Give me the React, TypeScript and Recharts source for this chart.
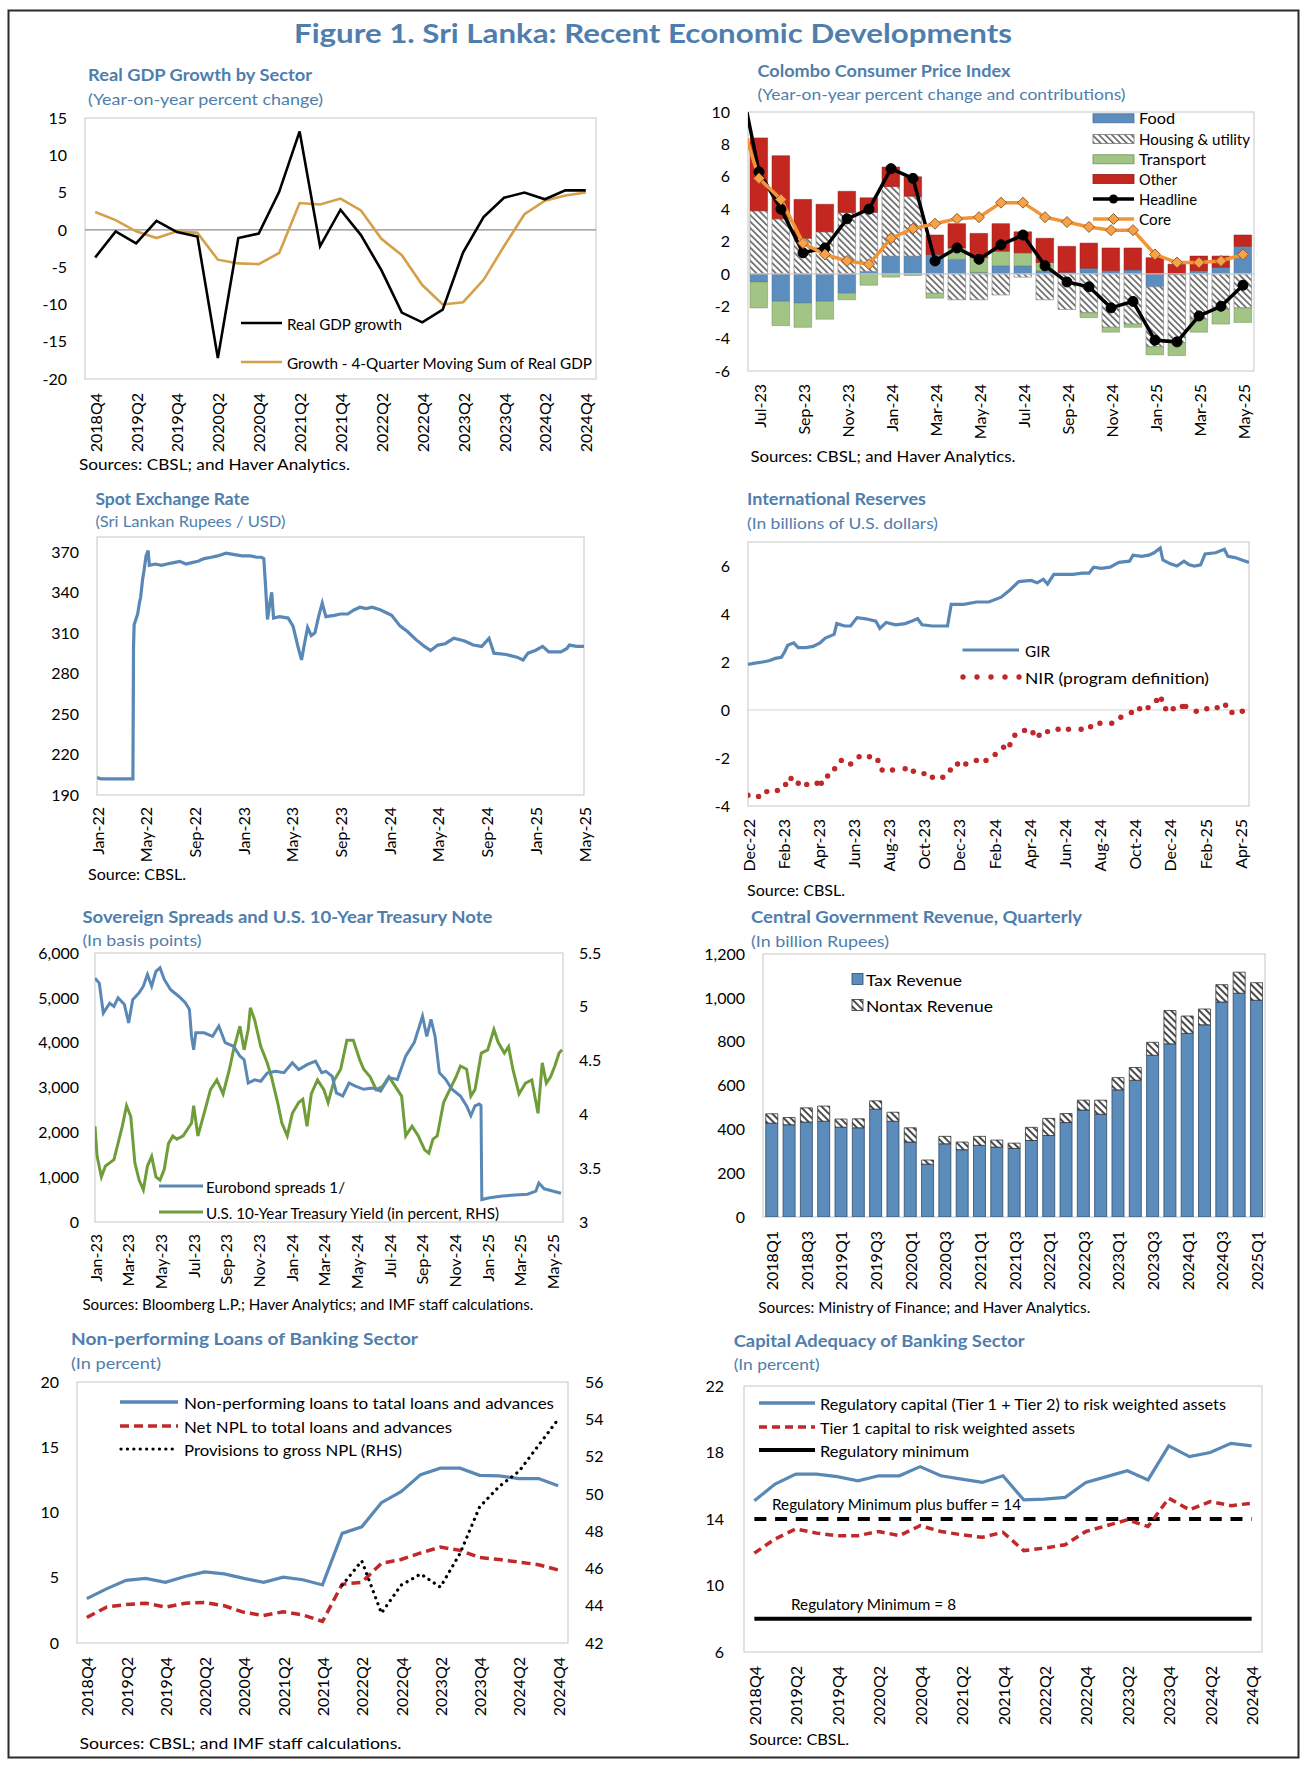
import React from 'react';
import { ComposedChart, Line, Bar, XAxis, YAxis, ReferenceLine } from 'recharts';

const FONT = "Lato, 'Open Sans', 'DejaVu Sans', sans-serif";
const TITLE_BLUE = '#4F7EAD';
const LINE_BLUE = '#5A88B6';
const GOLD = '#D4A04A';
const RED = '#C0282A';
const GREEN_T = '#6F9D3A';
const FOOD = '#5B8DBE';
const TRANSPORT = '#A2C585';
const OTHER = '#C3271F';
const CORE = '#F39434';
const TAX = '#5B8CBB';

// ---------------- DATA ----------------
// Real GDP growth (quarterly, 2018Q4 - 2024Q4)
const quarters = ['2018Q4', '2019Q1', '2019Q2', '2019Q3', '2019Q4', '2020Q1', '2020Q2', '2020Q3', '2020Q4', '2021Q1', '2021Q2', '2021Q3', '2021Q4', '2022Q1', '2022Q2', '2022Q3', '2022Q4', '2023Q1', '2023Q2', '2023Q3', '2023Q4', '2024Q1', '2024Q2', '2024Q3', '2024Q4'];
const gdpGrowth = [-3.7, -0.2, -1.8, 1.2, -0.3, -0.9, -17.2, -1.1, -0.5, 5.1, 13.2, -2.2, 2.7, -0.7, -5.4, -11.1, -12.4, -10.7, -3.0, 1.7, 4.3, 5.0, 4.1, 5.3, 5.3];
const gdpMovingSum = [2.4, 1.3, -0.2, -1.1, -0.2, -0.4, -4.0, -4.5, -4.6, -3.1, 3.6, 3.4, 4.2, 2.6, -1.2, -3.4, -7.4, -10.0, -9.7, -6.7, -2.2, 2.1, 3.9, 4.6, 5.0];

// Colombo CPI (monthly; Jun-23 only for the clipped line start)
const cpiMonths = ['Jun-23', 'Jul-23', 'Aug-23', 'Sep-23', 'Oct-23', 'Nov-23', 'Dec-23', 'Jan-24', 'Feb-24', 'Mar-24', 'Apr-24', 'May-24', 'Jun-24', 'Jul-24', 'Aug-24', 'Sep-24', 'Oct-24', 'Nov-24', 'Dec-24', 'Jan-25', 'Feb-25', 'Mar-25', 'Apr-25', 'May-25'];
const cpiFood = [null, -0.5, -1.7, -1.8, -1.7, -1.2, 0.15, 1.1, 1.1, 1.2, 0.9, 0.1, 0.5, 0.5, 0.2, 0.1, 0.35, 0.2, 0.25, -0.8, -0.05, 0.2, 0.4, 1.7];
const cpiHousing = [null, 3.9, 3.4, 2.2, 2.6, 3.8, 3.65, 4.3, 3.7, -1.2, -1.6, -1.6, -1.3, -0.2, -1.6, -2.2, -2.4, -3.3, -3.1, -3.7, -4.2, -2.8, -2.2, -2.1];
const cpiTransport = [null, -1.6, -1.5, -1.5, -1.1, -0.4, -0.7, -0.2, -0.1, -0.3, 0.7, 0.9, 0.9, 0.8, 0.5, 0, -0.3, -0.3, -0.2, -0.5, -0.8, -0.8, -0.9, -0.9];
const cpiOther = [null, 4.5, 3.9, 2.4, 1.7, 1.3, 0.9, 1.2, 1.2, 1.2, 1.5, 1.5, 1.7, 1.3, 1.5, 1.6, 1.55, 1.4, 1.35, 1.0, 0.6, 0.9, 0.7, 0.7];
const cpiHeadline = [13.0, 6.3, 4.0, 1.3, 1.6, 3.4, 4.0, 6.5, 5.9, 0.8, 1.6, 0.9, 1.8, 2.4, 0.5, -0.5, -0.8, -2.1, -1.7, -4.1, -4.2, -2.6, -2.0, -0.7];
const cpiCore = [10.3, 5.9, 4.6, 1.9, 1.2, 0.8, 0.6, 2.2, 2.8, 3.1, 3.4, 3.5, 4.4, 4.4, 3.5, 3.2, 2.9, 2.7, 2.7, 1.2, 0.7, 0.7, 0.8, 1.2];

// Spot exchange rate: [months since Jan-22, LKR per USD]
const spotTickLabels = ['Jan-22', 'May-22', 'Sep-22', 'Jan-23', 'May-23', 'Sep-23', 'Jan-24', 'May-24', 'Sep-24', 'Jan-25', 'May-25'];
const spotRate = [
  [0, 203], [0.3, 202], [1, 202], [2, 202], [2.95, 202], [3.0, 300], [3.05, 316], [3.34, 324], [3.5, 333], [3.58, 336], [3.75, 350], [3.86, 356], [4.03, 367], [4.2, 371], [4.3, 360],
  [4.8, 361], [5.3, 360], [5.75, 361], [6.3, 362], [6.8, 363], [7.3, 361], [7.8, 362], [8.3, 363], [8.8, 365], [9.4, 366], [9.9, 367], [10.6, 369], [11.3, 368], [11.9, 367], [12.6, 367], [13.1, 366], [13.5, 366], [13.7, 365],
  [13.85, 344], [14.0, 320], [14.2, 332], [14.35, 340], [14.5, 321], [15.0, 322], [15.7, 321], [16.1, 315], [16.5, 300], [16.8, 290], [17.0, 300], [17.3, 314],
  [17.6, 308], [17.9, 310], [18.2, 322], [18.5, 332], [18.8, 322], [19.5, 323], [20.0, 324], [20.6, 324], [21.1, 327], [21.6, 329], [22.1, 328], [22.6, 329], [23.3, 327], [24.2, 323], [24.9, 315],
  [25.5, 311], [26.2, 305], [26.9, 300], [27.4, 297], [28.0, 301], [28.6, 302], [29.3, 306], [30.2, 304], [30.9, 301], [31.6, 300], [32.2, 306], [32.6, 295],
  [33.6, 294], [34.5, 292], [35.0, 290], [35.4, 295], [36.0, 297], [36.6, 300], [37.1, 296], [38.1, 296], [38.6, 298.5], [38.8, 301], [39.4, 300], [40, 300],
];

// International reserves: [months since Dec-22, USD bn]
const resTickLabels = ['Dec-22', 'Feb-23', 'Apr-23', 'Jun-23', 'Aug-23', 'Oct-23', 'Dec-23', 'Feb-24', 'Apr-24', 'Jun-24', 'Aug-24', 'Oct-24', 'Dec-24', 'Feb-25', 'Apr-25'];
const gir = [
  [0, 1.9], [0.4, 1.95], [0.83, 2.0], [1.2, 2.05], [1.55, 2.15], [1.9, 2.2], [2.1, 2.45], [2.26, 2.7], [2.6, 2.8], [2.86, 2.6], [3.3, 2.6], [3.7, 2.65], [4.1, 2.8],
  [4.4, 3.0], [4.9, 3.15], [5.05, 3.6], [5.5, 3.5], [5.84, 3.5], [6.2, 3.85], [6.7, 3.8], [7.27, 3.7], [7.5, 3.4], [7.86, 3.65], [8.4, 3.55], [8.94, 3.6],
  [9.3, 3.7], [9.65, 3.8], [9.9, 3.55], [10.5, 3.5], [11.1, 3.5], [11.35, 3.5], [11.56, 4.4], [12.27, 4.4], [13.0, 4.5], [13.7, 4.5], [14.4, 4.7], [14.9, 5.0],
  [15.4, 5.35], [16.1, 5.4], [16.45, 5.3], [16.8, 5.45], [17.04, 5.25], [17.4, 5.65], [18.0, 5.65], [18.5, 5.65], [19.0, 5.7], [19.4, 5.7], [19.66, 5.95],
  [20.1, 5.9], [20.6, 5.95], [21.1, 6.15], [21.7, 6.2], [21.9, 6.45], [22.4, 6.4], [22.8, 6.45], [23.1, 6.55], [23.45, 6.75], [23.6, 6.25], [24.0, 6.1],
  [24.4, 6.0], [24.8, 6.2], [25.1, 6.05], [25.4, 6.0], [25.75, 6.05], [26.0, 6.5], [26.6, 6.55], [27.1, 6.7], [27.3, 6.4], [27.7, 6.35], [28.5, 6.15],
];
const nir = [
  [0, -3.55], [0.6, -3.6], [1.07, -3.4], [1.67, -3.35], [2.14, -3.1], [2.45, -2.85], [2.86, -3.05], [3.34, -3.1], [3.93, -3.05], [4.17, -3.05], [4.53, -2.75],
  [4.93, -2.45], [5.31, -2.1], [5.84, -2.25], [6.32, -1.95], [6.91, -1.95], [7.39, -2.1], [7.63, -2.5], [8.22, -2.5], [8.94, -2.45], [9.41, -2.55], [10.01, -2.65],
  [10.49, -2.8], [11.08, -2.8], [11.51, -2.5], [11.92, -2.25], [12.39, -2.25], [12.99, -2.1], [13.54, -2.1], [14.06, -1.85], [14.54, -1.55], [14.9, -1.45],
  [15.18, -1.05], [15.73, -0.85], [16.21, -0.95], [16.56, -1.05], [17.04, -0.9], [17.64, -0.8], [18.23, -0.8], [18.95, -0.8], [19.49, -0.7], [20.02, -0.55],
  [20.69, -0.55], [21.21, -0.3], [21.81, -0.1], [22.28, 0.05], [22.76, 0.1], [23.24, 0.4], [23.52, 0.45], [23.76, 0.05], [24.19, 0.05], [24.71, 0.15], [24.9, 0.15],
  [25.5, -0.05], [26.1, 0.05], [26.69, 0.1], [27.17, 0.2], [27.53, -0.1], [28.12, -0.05],
];

// Sovereign spreads (bp) and UST 10Y yield (%): [months since Jan-23, value]
const sprTickLabels = ['Jan-23', 'Mar-23', 'May-23', 'Jul-23', 'Sep-23', 'Nov-23', 'Jan-24', 'Mar-24', 'May-24', 'Jul-24', 'Sep-24', 'Nov-24', 'Jan-25', 'Mar-25', 'May-25'];
const eurobondSpread = [
  [0, 5440], [0.26, 5330], [0.51, 4660], [0.9, 4880], [1.16, 4810], [1.41, 5000], [1.8, 4850], [2.06, 4440], [2.31, 4960], [2.7, 5110], [2.96, 5260], [3.21, 5520],
  [3.47, 5260], [3.73, 5590], [3.98, 5670], [4.24, 5410], [4.63, 5180], [5.14, 5030], [5.53, 4890], [5.78, 4740], [5.91, 4140], [6.04, 3840], [6.17, 4220],
  [6.68, 4220], [7.2, 4140], [7.58, 4370], [7.97, 4000], [8.48, 3920], [8.87, 3700], [9.13, 3620], [9.38, 3100], [9.77, 3170], [10.15, 3140], [10.54, 3320],
  [11.05, 3360], [11.57, 3330], [12.08, 3550], [12.47, 3400], [12.98, 3510], [13.5, 3590], [13.88, 3330], [14.14, 3360], [14.52, 3250], [14.78, 2880],
  [15.17, 2810], [15.55, 3100], [15.94, 3030], [16.45, 2960], [16.97, 2990], [17.48, 2920], [17.99, 3220], [18.51, 3180], [19.02, 3700], [19.54, 4000],
  [20.05, 4590], [20.31, 4140], [20.57, 4520], [20.82, 4140], [21.08, 3330], [21.47, 3180], [21.85, 2960], [22.37, 2810], [22.75, 2590], [23.01, 2370],
  [23.26, 2590], [23.52, 2630], [23.63, 2600], [23.68, 500], [24.16, 540], [24.94, 580], [25.71, 600], [26.48, 620], [26.99, 690], [27.17, 870], [27.5, 740],
  [28.01, 690], [28.53, 640],
];
const treasuryYield = [
  [0, 3.89], [0.13, 3.61], [0.39, 3.42], [0.64, 3.52], [0.9, 3.55], [1.16, 3.58], [1.41, 3.73], [1.67, 3.89], [1.93, 4.08], [2.19, 3.98], [2.44, 3.55], [2.7, 3.39],
  [2.96, 3.3], [3.21, 3.52], [3.47, 3.61], [3.73, 3.42], [3.98, 3.39], [4.24, 3.49], [4.5, 3.73], [4.76, 3.8], [5.01, 3.77], [5.4, 3.8], [5.91, 3.92], [6.04, 4.08],
  [6.3, 3.8], [6.68, 4.01], [7.07, 4.23], [7.46, 4.32], [7.84, 4.19], [8.23, 4.42], [8.48, 4.6], [8.87, 4.82], [9.13, 4.6], [9.38, 4.79], [9.51, 4.99], [9.77, 4.88],
  [10.15, 4.63], [10.54, 4.48], [10.8, 4.35], [11.18, 4.11], [11.44, 3.92], [11.77, 3.8], [12.08, 4.01], [12.47, 4.11], [12.72, 4.14], [12.98, 3.89], [13.24, 4.19],
  [13.62, 4.32], [14.01, 4.23], [14.27, 4.11], [14.65, 4.32], [15.04, 4.42], [15.42, 4.69], [15.81, 4.69], [16.2, 4.51], [16.45, 4.42], [16.84, 4.35], [17.22, 4.23],
  [17.61, 4.26], [17.99, 4.35], [18.38, 4.26], [18.77, 4.17], [19.02, 3.8], [19.41, 3.89], [19.79, 3.8], [20.18, 3.67], [20.44, 3.64], [20.69, 3.77], [20.95, 3.8],
  [21.34, 4.11], [21.72, 4.23], [22.11, 4.35], [22.37, 4.45], [22.75, 4.42], [23.01, 4.17], [23.26, 4.23], [23.65, 4.57], [24.04, 4.6], [24.42, 4.79], [24.68, 4.67],
  [25.06, 4.57], [25.32, 4.63], [25.58, 4.42], [25.96, 4.19], [26.35, 4.29], [26.74, 4.32], [27.12, 4.01], [27.38, 4.48], [27.63, 4.29], [27.89, 4.35], [28.15, 4.45],
  [28.41, 4.57], [28.59, 4.6],
];

// Central government revenue (quarterly, billion rupees)
const revQuarters = ['2018Q1', '2018Q2', '2018Q3', '2018Q4', '2019Q1', '2019Q2', '2019Q3', '2019Q4', '2020Q1', '2020Q2', '2020Q3', '2020Q4', '2021Q1', '2021Q2', '2021Q3', '2021Q4', '2022Q1', '2022Q2', '2022Q3', '2022Q4', '2023Q1', '2023Q2', '2023Q3', '2023Q4', '2024Q1', '2024Q2', '2024Q3', '2024Q4', '2025Q1'];
const taxRevenue = [428, 421, 433, 437, 410, 407, 492, 437, 342, 241, 334, 307, 327, 319, 313, 349, 372, 431, 488, 469, 580, 624, 738, 790, 838, 877, 981, 1021, 989];
const nontaxRevenue = [43, 33, 65, 69, 37, 41, 38, 41, 65, 19, 34, 35, 41, 32, 24, 60, 78, 41, 45, 64, 56, 58, 59, 152, 79, 72, 79, 96, 80];

// Non-performing loans (percent)
const nplRatio = [3.4, 4.15, 4.8, 4.95, 4.65, 5.1, 5.45, 5.3, 4.95, 4.65, 5.05, 4.85, 4.45, 8.4, 8.9, 10.75, 11.6, 12.9, 13.4, 13.4, 12.85, 12.8, 12.6, 12.6, 12.05];
const netNplRatio = [1.95, 2.75, 2.95, 3.05, 2.75, 3.05, 3.1, 2.85, 2.35, 2.1, 2.4, 2.15, 1.65, 4.5, 4.65, 6.1, 6.4, 6.9, 7.35, 7.1, 6.55, 6.4, 6.2, 6.0, 5.6];
const provisionsRatio = [null, null, null, null, null, null, null, null, null, null, null, null, null, 45.1, 46.4, 43.6, 45.1, 45.7, 45.0, 46.8, 49.3, 50.4, 51.2, 52.6, 54.0];

// Capital adequacy (percent)
const regCapital = [15.1, 16.1, 16.7, 16.7, 16.55, 16.3, 16.6, 16.6, 17.15, 16.6, 16.4, 16.2, 16.6, 15.15, 15.2, 15.3, 16.2, 16.55, 16.9, 16.35, 18.4, 17.75, 18.0, 18.55, 18.4];
const tier1Capital = [11.95, 12.8, 13.4, 13.15, 13.0, 13.0, 13.25, 13.0, 13.6, 13.25, 13.05, 12.9, 13.2, 12.1, 12.25, 12.45, 13.25, 13.6, 13.95, 13.55, 15.25, 14.55, 15.05, 14.8, 14.95];
const regMinimum = [8, 8, 8, 8, 8, 8, 8, 8, 8, 8, 8, 8, 8, 8, 8, 8, 8, 8, 8, 8, 8, 8, 8, 8, 8];
const regMinBuffer = [14, 14, 14, 14, 14, 14, 14, 14, 14, 14, 14, 14, 14, 14, 14, 14, 14, 14, 14, 14, 14, 14, 14, 14, 14];

// ---------------- TABLES ----------------
const gdpRows = quarters.map((q, i) => ({ q, growth: gdpGrowth[i], msum: gdpMovingSum[i] }));
const cpiRows = cpiMonths.map((m, i) => ({
  x: i - 1, food: cpiFood[i], housing: cpiHousing[i], transport: cpiTransport[i], other: cpiOther[i], headline: cpiHeadline[i], core: cpiCore[i],
}));
const spotRows = spotRate.map(([m, v]) => ({ m, v }));
const girRows = gir.map(([m, v]) => ({ m, v }));
const nirRows = nir.map(([m, v]) => ({ m, v }));
const sprRows = eurobondSpread.map(([m, v]) => ({ m, v }));
const ustRows = treasuryYield.map(([m, v]) => ({ m, v }));
const revRows = revQuarters.map((q, i) => ({ q, tax: taxRevenue[i], nontax: nontaxRevenue[i] }));
const nplRows = quarters.map((q, i) => ({ q, npl: nplRatio[i], net: netNplRatio[i], prov: provisionsRatio[i] }));
const carRows = quarters.map((q, i) => ({ q, reg: regCapital[i], t1: tier1Capital[i], min: regMinimum[i], buf: regMinBuffer[i] }));

// ---------------- HELPERS ----------------
const MR = 16;
const M = { top: 10, right: MR, bottom: 0, left: 0 };
function frame(L: number, T: number, R: number, B: number, yw: number, yw2: number, xh: number) {
  return { left: L - yw, top: T - 10, width: R - L + yw + yw2 + MR, height: B - T + 10 + xh };
}
const yTick = { fontSize: 16, fontFamily: FONT, fill: '#000' };
const rotTick = (fmt?: (v: any) => string) => (p: any) => {
  const label = fmt ? fmt(p.payload.value) : p.payload.value;
  return (
    <text key={`t${p.index}`} x={p.x} y={p.y} transform={`rotate(-90 ${p.x} ${p.y})`} textAnchor="end" dominantBaseline="central" fontFamily={FONT} fontSize={16} fill="#000">
      {label}
    </text>
  );
};
const thousands = (v: number) => v.toLocaleString('en-US');
const diamondDot = (p: any) => {
  const { cx, cy, index } = p;
  if (cx == null || cy == null) return <g key={`d${index}`} />;
  const s = 5.5;
  return <path key={`d${index}`} d={`M${cx},${cy - s}L${cx + s},${cy}L${cx},${cy + s}L${cx - s},${cy}Z`} fill="#F6A24A" stroke="#9A5B22" strokeWidth={1} />;
};

const Pos = ({ f, children }: any) => (
  <div style={{ position: 'absolute', left: f.left, top: f.top, width: f.width, height: f.height }}>{children}</div>
);

const Txt = ({ x, y, len, size = 16, bold = false, fill = '#000', children }: any) => (
  <text x={x} y={y} fontFamily={FONT} fontSize={size} fontWeight={bold ? 700 : 400} fill={fill} dominantBaseline="central"
    textLength={len} lengthAdjust={len ? 'spacingAndGlyphs' : undefined}>{children}</text>
);

// plot boxes [L, T, R, B]
const B1 = [85, 118, 596, 379];
const B2 = [748, 112, 1254, 371];
const B3 = [97, 537, 584, 795];
const B4 = [748, 542, 1249, 806];
const B5 = [95, 953, 563, 1222];
const B6 = [763, 954, 1265, 1217];
const B7 = [77, 1382, 568, 1643];
const B8 = [744, 1386, 1262, 1652];

const F1 = frame(B1[0], B1[1], B1[2], B1[3], 60, 0, 90);
const F2 = frame(B2[0], B2[1], B2[2], B2[3], 60, 0, 85);
const F3 = frame(B3[0], B3[1], B3[2], B3[3], 60, 0, 80);
const F4 = frame(B4[0], B4[1], B4[2], B4[3], 60, 0, 80);
const F5 = frame(B5[0], B5[1], B5[2], B5[3], 70, 50, 80);
const F6 = frame(B6[0], B6[1], B6[2], B6[3], 70, 0, 85);
const F7 = frame(B7[0], B7[1], B7[2], B7[3], 60, 50, 85);
const F8 = frame(B8[0], B8[1], B8[2], B8[3], 60, 0, 85);

// half-band padding so that quarterly points sit at category centres (as in the original)
const pad1 = (B1[2] - B1[0]) / quarters.length / 2;
const pad7 = (B7[2] - B7[0]) / quarters.length / 2;
const pad8 = (B8[2] - B8[0]) / quarters.length / 2;

// ---------------- CHARTS ----------------
const GdpChart = () => (
  <Pos f={F1}>
    <ComposedChart width={F1.width} height={F1.height} data={gdpRows} margin={M}>
      <XAxis dataKey="q" interval={1} padding={{ left: pad1, right: pad1 }} axisLine={false} tickLine={false} tickSize={0} tickMargin={14} height={90} tick={rotTick()} />
      <YAxis domain={[-20, 15]} ticks={[-20, -15, -10, -5, 0, 5, 10, 15]} allowDataOverflow width={60} axisLine={false} tickLine={false} tickSize={0} tickMargin={18} tick={yTick} />
      <ReferenceLine y={0} stroke="#8C8C8C" strokeWidth={1.2} />
      <Line dataKey="msum" stroke={GOLD} strokeWidth={2.6} dot={false} isAnimationActive={false} />
      <Line dataKey="growth" stroke="#000" strokeWidth={2.6} dot={false} isAnimationActive={false} />
    </ComposedChart>
  </Pos>
);

const CpiChart = () => (
  <Pos f={F2}>
    <ComposedChart width={F2.width} height={F2.height} data={cpiRows} margin={M} stackOffset="sign">
      <XAxis dataKey="x" type="number" domain={[-0.5, 22.5]} allowDataOverflow ticks={[0, 2, 4, 6, 8, 10, 12, 14, 16, 18, 20, 22]} interval={0}
        axisLine={false} tickLine={false} tickSize={0} tickMargin={13} height={85} tick={rotTick((v) => cpiMonths[v + 1])} />
      <YAxis domain={[-6, 10]} ticks={[-6, -4, -2, 0, 2, 4, 6, 8, 10]} allowDataOverflow width={60} axisLine={false} tickLine={false} tickSize={0} tickMargin={18} tick={yTick} />
      <ReferenceLine y={0} stroke="#C8C8C8" strokeWidth={1.2} />
      <Bar dataKey="food" stackId="c" fill={FOOD} stroke="#4A6F94" strokeWidth={0.5} barSize={17.6} isAnimationActive={false} />
      <Bar dataKey="housing" stackId="c" fill="url(#hatchCpi)" stroke="#8A8A8A" strokeWidth={0.7} barSize={17.6} isAnimationActive={false} />
      <Bar dataKey="transport" stackId="c" fill={TRANSPORT} stroke="#6F8F58" strokeWidth={0.5} barSize={17.6} isAnimationActive={false} />
      <Bar dataKey="other" stackId="c" fill={OTHER} stroke="#8E1D16" strokeWidth={0.5} barSize={17.6} isAnimationActive={false} />
      <Line dataKey="headline" stroke="#000" strokeWidth={3.5} dot={{ r: 5, fill: '#000', stroke: '#000', strokeWidth: 1 }} isAnimationActive={false} />
      <Line dataKey="core" stroke={CORE} strokeWidth={3.5} dot={diamondDot} isAnimationActive={false} />
    </ComposedChart>
  </Pos>
);

const SpotChart = () => (
  <Pos f={F3}>
    <ComposedChart width={F3.width} height={F3.height} data={spotRows} margin={M}>
      <XAxis dataKey="m" type="number" domain={[0, 40]} allowDataOverflow ticks={[0, 4, 8, 12, 16, 20, 24, 28, 32, 36, 40]} interval={0}
        axisLine={false} tickLine={false} tickSize={0} tickMargin={12} height={80} tick={rotTick((v) => spotTickLabels[Math.round(v / 4)])} />
      <YAxis domain={[190, 381]} ticks={[190, 220, 250, 280, 310, 340, 370]} allowDataOverflow width={60} axisLine={false} tickLine={false} tickSize={0} tickMargin={18} tick={yTick} />
      <Line dataKey="v" stroke={LINE_BLUE} strokeWidth={3.2} dot={false} isAnimationActive={false} />
    </ComposedChart>
  </Pos>
);

const ReservesChart = () => (
  <Pos f={F4}>
    <ComposedChart width={F4.width} height={F4.height} margin={M}>
      <XAxis dataKey="m" type="number" domain={[0, 28.5]} allowDataOverflow ticks={[0, 2, 4, 6, 8, 10, 12, 14, 16, 18, 20, 22, 24, 26, 28]} interval={0}
        axisLine={false} tickLine={false} tickSize={0} tickMargin={13} height={80} tick={rotTick((v) => resTickLabels[Math.round(v / 2)])} />
      <YAxis domain={[-4, 7]} ticks={[-4, -2, 0, 2, 4, 6]} allowDataOverflow width={60} axisLine={false} tickLine={false} tickSize={0} tickMargin={18} tick={yTick} />
      <ReferenceLine y={0} stroke="#D4D4D4" strokeWidth={1.2} />
      <Line data={girRows} dataKey="v" stroke={LINE_BLUE} strokeWidth={3.2} dot={false} isAnimationActive={false} />
      <Line data={nirRows} dataKey="v" stroke="none" strokeWidth={0} dot={{ r: 2.7, fill: RED, stroke: 'none' }} isAnimationActive={false} />
    </ComposedChart>
  </Pos>
);

const SpreadChart = () => (
  <Pos f={F5}>
    <ComposedChart width={F5.width} height={F5.height} margin={M}>
      <XAxis dataKey="m" type="number" domain={[0, 28.65]} allowDataOverflow ticks={[0, 2, 4, 6, 8, 10, 12, 14, 16, 18, 20, 22, 24, 26, 28]} interval={0}
        axisLine={false} tickLine={false} tickSize={0} tickMargin={12} height={80} tick={rotTick((v) => sprTickLabels[Math.round(v / 2)])} />
      <YAxis yAxisId="L" domain={[0, 6000]} ticks={[0, 1000, 2000, 3000, 4000, 5000, 6000]} tickFormatter={thousands} allowDataOverflow width={70}
        axisLine={false} tickLine={false} tickSize={0} tickMargin={16} tick={yTick} />
      <YAxis yAxisId="R" orientation="right" domain={[3, 5.5]} ticks={[3, 3.5, 4, 4.5, 5, 5.5]} allowDataOverflow width={50}
        axisLine={false} tickLine={false} tickSize={0} tickMargin={16} tick={yTick} />
      <Line yAxisId="R" data={ustRows} dataKey="v" stroke={GREEN_T} strokeWidth={3} dot={false} isAnimationActive={false} />
      <Line yAxisId="L" data={sprRows} dataKey="v" stroke={LINE_BLUE} strokeWidth={3} dot={false} isAnimationActive={false} />
    </ComposedChart>
  </Pos>
);

const RevenueChart = () => (
  <Pos f={F6}>
    <ComposedChart width={F6.width} height={F6.height} data={revRows} margin={M} barCategoryGap="16%">
      <XAxis dataKey="q" interval={1} axisLine={false} tickLine={false} tickSize={0} tickMargin={14} height={85} tick={rotTick()} />
      <YAxis domain={[0, 1200]} ticks={[0, 200, 400, 600, 800, 1000, 1200]} tickFormatter={thousands} allowDataOverflow width={70}
        axisLine={false} tickLine={false} tickSize={0} tickMargin={18} tick={yTick} />
      <Bar dataKey="tax" stackId="r" fill={TAX} stroke="#2F4B68" strokeWidth={0.8} isAnimationActive={false} />
      <Bar dataKey="nontax" stackId="r" fill="url(#hatchRev)" stroke="#333" strokeWidth={0.8} isAnimationActive={false} />
    </ComposedChart>
  </Pos>
);

const NplChart = () => (
  <Pos f={F7}>
    <ComposedChart width={F7.width} height={F7.height} data={nplRows} margin={M}>
      <XAxis dataKey="q" interval={1} padding={{ left: pad7, right: pad7 }} axisLine={false} tickLine={false} tickSize={0} tickMargin={14} height={85} tick={rotTick()} />
      <YAxis yAxisId="L" domain={[0, 20]} ticks={[0, 5, 10, 15, 20]} allowDataOverflow width={60} axisLine={false} tickLine={false} tickSize={0} tickMargin={18} tick={yTick} />
      <YAxis yAxisId="R" orientation="right" domain={[42, 56]} ticks={[42, 44, 46, 48, 50, 52, 54, 56]} allowDataOverflow width={50}
        axisLine={false} tickLine={false} tickSize={0} tickMargin={17} tick={yTick} />
      <Line yAxisId="L" dataKey="npl" stroke={LINE_BLUE} strokeWidth={3.2} dot={false} isAnimationActive={false} />
      <Line yAxisId="L" dataKey="net" stroke={RED} strokeWidth={3.5} strokeDasharray="9 5" dot={false} isAnimationActive={false} />
      <Line yAxisId="R" dataKey="prov" stroke="#000" strokeWidth={3.2} strokeDasharray="0.1 6.3" strokeLinecap="round" dot={false} isAnimationActive={false} />
    </ComposedChart>
  </Pos>
);

const CarChart = () => (
  <Pos f={F8}>
    <ComposedChart width={F8.width} height={F8.height} data={carRows} margin={M}>
      <XAxis dataKey="q" interval={1} padding={{ left: pad8, right: pad8 }} axisLine={false} tickLine={false} tickSize={0} tickMargin={14} height={85} tick={rotTick()} />
      <YAxis domain={[6, 22]} ticks={[6, 10, 14, 18, 22]} allowDataOverflow width={60} axisLine={false} tickLine={false} tickSize={0} tickMargin={20} tick={yTick} />
      <Line dataKey="min" stroke="#000" strokeWidth={4} dot={false} isAnimationActive={false} />
      <Line dataKey="buf" stroke="#000" strokeWidth={4} strokeDasharray="12 8.7" dot={false} isAnimationActive={false} />
      <Line dataKey="t1" stroke={RED} strokeWidth={3.5} strokeDasharray="8 5" dot={false} isAnimationActive={false} />
      <Line dataKey="reg" stroke={LINE_BLUE} strokeWidth={3.2} dot={false} isAnimationActive={false} />
    </ComposedChart>
  </Pos>
);

// ---------------- BACKGROUND / OVERLAY ----------------
const boxes = [B1, B2, B3, B4, B5, B6, B7, B8];

const Background = () => (
  <svg width={1310} height={1768} style={{ position: 'absolute', left: 0, top: 0 }}>
    <defs>
      <pattern id="hatchCpi" patternUnits="userSpaceOnUse" width={4.6} height={4.6} patternTransform="rotate(-45)">
        <rect width={4.6} height={4.6} fill="#fff" />
        <rect width={1.7} height={4.6} fill="#6A6A6A" />
      </pattern>
      <pattern id="hatchRev" patternUnits="userSpaceOnUse" width={5} height={5} patternTransform="rotate(-45)">
        <rect width={5} height={5} fill="#fff" />
        <rect width={2} height={5} fill="#4A4A4A" />
      </pattern>
    </defs>
    <rect x={8.5} y={10.5} width={1290} height={1747} fill="none" stroke="#2A2A2A" strokeWidth={2} />
    {boxes.map((b, i) => (
      <rect key={i} x={b[0]} y={b[1]} width={b[2] - b[0]} height={b[3] - b[1]} fill="none" stroke="#D3D3D3" strokeWidth={1.3} />
    ))}
  </svg>
);

const LegLine = ({ x1, x2, y, color, w = 3.2, dash }: any) => (
  <line x1={x1} x2={x2} y1={y} y2={y} stroke={color} strokeWidth={w} strokeDasharray={dash} strokeLinecap={dash && dash.startsWith('0.1') ? 'round' : 'butt'} />
);

const Overlay = () => (
  <svg width={1310} height={1768} style={{ position: 'absolute', left: 0, top: 0, pointerEvents: 'none' }}>
    {/* main title */}
    <Txt x={294} y={33} len={718} size={26} bold fill={TITLE_BLUE}>Figure 1. Sri Lanka: Recent Economic Developments</Txt>

    {/* Panel 1 */}
    <Txt x={88} y={74} len={224} size={17} bold fill={TITLE_BLUE}>Real GDP Growth by Sector</Txt>
    <Txt x={88} y={98} len={235} fill={TITLE_BLUE}>(Year-on-year percent change)</Txt>
    <LegLine x1={241} x2={282} y={323} color="#000" w={2.6} />
    <Txt x={287} y={323} len={115}>Real GDP growth</Txt>
    <LegLine x1={241} x2={282} y={362} color={GOLD} w={2.6} />
    <Txt x={287} y={362} len={305}>Growth - 4-Quarter Moving Sum of Real GDP</Txt>
    <Txt x={79} y={463} len={271}>Sources: CBSL; and Haver Analytics.</Txt>

    {/* Panel 2 */}
    <Txt x={757.5} y={70} len={253} size={17} bold fill={TITLE_BLUE}>Colombo Consumer Price Index</Txt>
    <Txt x={757.5} y={93} len={368} fill={TITLE_BLUE}>(Year-on-year percent change and contributions)</Txt>
    <rect x={1093} y={113.8} width={41} height={9} fill={FOOD} stroke="#4A6F94" strokeWidth={0.8} />
    <rect x={1093} y={134.5} width={41} height={9} fill="url(#hatchCpi)" stroke="#777" strokeWidth={0.8} />
    <rect x={1093} y={154.8} width={41} height={9} fill={TRANSPORT} stroke="#6F8F58" strokeWidth={0.8} />
    <rect x={1093} y={174.5} width={41} height={9} fill={OTHER} stroke="#8E1D16" strokeWidth={0.8} />
    <LegLine x1={1093} x2={1134} y={199} color="#000" w={3.5} />
    <circle cx={1113.5} cy={199} r={4.5} fill="#000" />
    <LegLine x1={1093} x2={1134} y={219} color={CORE} w={3.5} />
    <path d="M1113.5,213.5L1119,219L1113.5,224.5L1108,219Z" fill="#F6A24A" stroke="#9A5B22" strokeWidth={1} />
    <Txt x={1139} y={118.3} size={15} len={36}>Food</Txt>
    <Txt x={1139} y={139} size={15} len={111}>Housing &amp; utility</Txt>
    <Txt x={1139} y={159.3} size={15} len={67}>Transport</Txt>
    <Txt x={1139} y={179} size={15} len={38}>Other</Txt>
    <Txt x={1139} y={199} size={15} len={58}>Headline</Txt>
    <Txt x={1139} y={219} size={15} len={32}>Core</Txt>
    <Txt x={750.4} y={455} len={265}>Sources: CBSL; and Haver Analytics.</Txt>

    {/* Panel 3 */}
    <Txt x={95.4} y={498} len={154} size={17} bold fill={TITLE_BLUE}>Spot Exchange Rate</Txt>
    <Txt x={95.4} y={520} len={190} fill={TITLE_BLUE}>(Sri Lankan Rupees / USD)</Txt>
    <Txt x={88} y={873} len={98}>Source: CBSL.</Txt>

    {/* Panel 4 */}
    <Txt x={747} y={498} len={179} size={17} bold fill={TITLE_BLUE}>International Reserves</Txt>
    <Txt x={747} y={522} len={191} fill={TITLE_BLUE}>(In billions of U.S. dollars)</Txt>
    <LegLine x1={962.5} x2={1019} y={650} color={LINE_BLUE} w={3.2} />
    <Txt x={1025} y={650} len={25}>GIR</Txt>
    {[963, 977, 991, 1005, 1019].map((cx) => <circle key={cx} cx={cx} cy={677} r={2.7} fill={RED} />)}
    <Txt x={1025} y={677} len={184}>NIR (program definition)</Txt>
    <Txt x={747} y={889} len={98}>Source: CBSL.</Txt>

    {/* Panel 5 */}
    <Txt x={82.4} y={916} len={410} size={17} bold fill={TITLE_BLUE}>Sovereign Spreads and U.S. 10-Year Treasury Note</Txt>
    <Txt x={82.4} y={939} len={119} fill={TITLE_BLUE}>(In basis points)</Txt>
    <LegLine x1={159} x2={203} y={1186} color={LINE_BLUE} w={3.2} />
    <Txt x={206} y={1186} len={139}>Eurobond spreads 1/</Txt>
    <LegLine x1={159} x2={203} y={1212} color={GREEN_T} w={3.2} />
    <Txt x={206} y={1212} len={293}>U.S. 10-Year Treasury Yield (in percent, RHS)</Txt>
    <Txt x={82.4} y={1303} len={451}>Sources: Bloomberg L.P.; Haver Analytics; and IMF staff calculations.</Txt>

    {/* Panel 6 */}
    <Txt x={751} y={916} len={331} size={17} bold fill={TITLE_BLUE}>Central Government Revenue, Quarterly</Txt>
    <Txt x={751} y={940} len={138} fill={TITLE_BLUE}>(In billion Rupees)</Txt>
    <rect x={852} y={973.5} width={11} height={11} fill={TAX} stroke="#2F4B68" strokeWidth={0.8} />
    <Txt x={866} y={979} len={96}>Tax Revenue</Txt>
    <rect x={852} y={999.5} width={11} height={11} fill="url(#hatchRev)" stroke="#333" strokeWidth={0.8} />
    <Txt x={866} y={1005} len={127}>Nontax Revenue</Txt>
    <Txt x={758.3} y={1306} len={332}>Sources: Ministry of Finance; and Haver Analytics.</Txt>

    {/* Panel 7 */}
    <Txt x={71} y={1338} len={347} size={17} bold fill={TITLE_BLUE}>Non-performing Loans of Banking Sector</Txt>
    <Txt x={71} y={1362} len={90} fill={TITLE_BLUE}>(In percent)</Txt>
    <LegLine x1={120} x2={178} y={1402} color={LINE_BLUE} w={3.5} />
    <Txt x={184} y={1402} len={370}>Non-performing loans to tatal loans and advances</Txt>
    <LegLine x1={120} x2={178} y={1426} color={RED} w={3.5} dash="9 5" />
    <Txt x={184} y={1426} len={268}>Net NPL to total loans and advances</Txt>
    <LegLine x1={121} x2={178} y={1449} color="#000" w={3.2} dash="0.1 6.3" />
    <Txt x={184} y={1449} len={218}>Provisions to gross NPL (RHS)</Txt>
    <Txt x={79.5} y={1742} len={322}>Sources: CBSL; and IMF staff calculations.</Txt>

    {/* Panel 8 */}
    <Txt x={733.7} y={1340} len={291} size={17} bold fill={TITLE_BLUE}>Capital Adequacy of Banking Sector</Txt>
    <Txt x={733.7} y={1363} len={86} fill={TITLE_BLUE}>(In percent)</Txt>
    <LegLine x1={759} x2={815} y={1403} color={LINE_BLUE} w={3.5} />
    <Txt x={820} y={1403} len={406}>Regulatory capital (Tier 1 + Tier 2) to risk weighted assets</Txt>
    <LegLine x1={759} x2={815} y={1427} color={RED} w={3.5} dash="8 5" />
    <Txt x={820} y={1427} len={255}>Tier 1 capital to risk weighted assets</Txt>
    <LegLine x1={759} x2={815} y={1450} color="#000" w={4} />
    <Txt x={820} y={1450} len={149}>Regulatory minimum</Txt>
    <Txt x={772} y={1504} len={249} size={15}>Regulatory Minimum plus buffer = 14</Txt>
    <Txt x={791} y={1604} len={165} size={15}>Regulatory Minimum = 8</Txt>
    <Txt x={749} y={1738} len={100}>Source: CBSL.</Txt>
  </svg>
);

export default function App() {
  return (
    <div style={{ position: 'absolute', left: 0, top: 0, width: 1310, height: 1768, background: '#fff', fontFamily: FONT }}>
      <Background />
      <GdpChart />
      <CpiChart />
      <SpotChart />
      <ReservesChart />
      <SpreadChart />
      <RevenueChart />
      <NplChart />
      <CarChart />
      <Overlay />
    </div>
  );
}
